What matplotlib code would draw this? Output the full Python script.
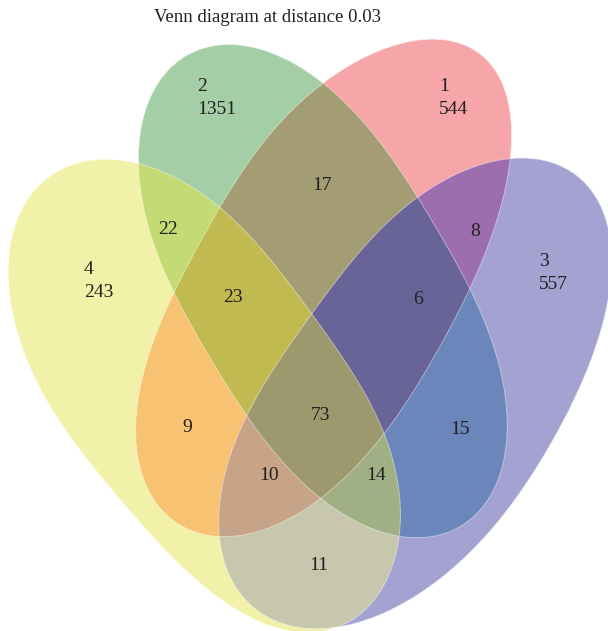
import numpy as np
import matplotlib.pyplot as plt
from matplotlib.path import Path

title = "Venn diagram at distance 0.03"

# set id -> elements found only in that set
set_ids = ["1", "2", "3", "4"]
set_only = [544, 1351, 557, 243]

# overlap regions: which sets share them, and how many
overlap_sets = ["12", "24", "124", "123", "13", "1234", "14", "23", "134", "234", "34"]
overlap_counts = [17, 22, 23, 6, 8, 73, 9, 15, 10, 14, 11]

# label positions (pixels, y down)
set_label_pos = {"1": (439, 98), "2": (197, 98), "3": (539, 273), "4": (84, 281)}
overlap_pos = {
    "12": (322, 185), "24": (168, 230), "124": (233, 298), "123": (418, 300),
    "13": (475, 231), "1234": (320, 415), "14": (187, 428), "23": (460, 429),
    "134": (269, 475), "234": (376, 475), "34": (319, 566),
}

# outline points of each egg shaped set, traced clockwise
outlines = {
    "1": [(322, 87), (353, 63), (387, 50), (420, 43), (453, 40), (480, 42), (497, 57),
          (505, 80), (507, 113), (507, 140), (505, 162), (493, 227), (472, 292),
          (420, 383), (382, 437), (352, 467), (322, 495), (272, 523), (222, 540),
          (167, 527), (143, 487), (138, 437), (143, 387), (157, 347), (172, 292),
          (193, 250), (217, 208), (243, 170), (280, 127)],
    "2": [(220, 40), (253, 47), (287, 63), (322, 87), (350, 112), (378, 140), (422, 198),
          (450, 247), (472, 292), (487, 337), (500, 387), (505, 430), (503, 470),
          (487, 507), (460, 533), (427, 542), (398, 537), (360, 520), (322, 495),
          (283, 457), (247, 418), (213, 370), (187, 320), (173, 292), (153, 223),
          (142, 165), (140, 140), (143, 113), (153, 87), (170, 63), (193, 47)],
    "3": [(422, 198), (460, 173), (500, 162), (530, 158), (560, 162), (583, 173),
          (600, 197), (609, 230), (606, 290), (597, 330), (580, 383), (560, 440),
          (520, 490), (470, 552), (417, 593), (360, 619), (310, 629), (260, 620),
          (230, 587), (222, 540), (227, 480), (247, 418), (280, 360), (312, 305),
          (367, 247)],
    "4": [(90, 157), (117, 159), (140, 165), (180, 183), (217, 208), (263, 257),
          (312, 305), (333, 340), (360, 385), (382, 437), (393, 487), (398, 537),
          (397, 560), (383, 590), (360, 619), (330, 634), (300, 634), (270, 626),
          (200, 573), (150, 532), (100, 483), (73, 447), (43, 383), (20, 337),
          (12, 290), (10, 260), (12, 233), (23, 200), (50, 170)],
}

region_colors = {
    "1": "#f6a6a8", "2": "#a5cea6", "3": "#a5a2d0", "4": "#f2f2aa",
    "12": "#a59d75", "13": "#9e6eae", "14": "#f8c273", "23": "#6b86ba",
    "24": "#c4da75", "34": "#c6c7ac", "123": "#696498", "124": "#c1ba50",
    "134": "#c7a388", "234": "#a0b084", "1234": "#9e986e",
}


def smooth_closed(points, k=4, n=720):
    # low order fourier fit of the traced outline, irons out tracing noise
    p = np.array(points, dtype=float)
    seg = np.linalg.norm(np.roll(p, -1, axis=0) - p, axis=1)
    s = np.concatenate([[0], np.cumsum(seg)[:-1]]) / seg.sum()

    def basis(u):
        cols = [np.ones_like(u)]
        for j in range(1, k + 1):
            cols += [np.cos(2 * np.pi * j * u), np.sin(2 * np.pi * j * u)]
        return np.column_stack(cols)

    coef, *_ = np.linalg.lstsq(basis(s), p, rcond=None)
    return basis(np.linspace(0, 1, n, endpoint=False)) @ coef


W, H = 608, 631
fig = plt.figure(figsize=(W / 100, H / 100), dpi=100)
ax = fig.add_axes([0, 0, 1, 1])

# colour every point by the sets it falls in
ss = 2
xs = (np.arange(W * ss) + 0.5) / ss
ys = (np.arange(H * ss) + 0.5) / ss
gx, gy = np.meshgrid(xs, ys)
pts = np.column_stack([gx.ravel(), gy.ravel()])
code = np.zeros(len(pts), dtype=int)
curves = {}
for k, sid in enumerate(set_ids):
    curves[sid] = smooth_closed(outlines[sid])
    inside = Path(curves[sid]).contains_points(pts)
    code |= inside.astype(int) << k

lut = np.ones((16, 3))
for key, col in region_colors.items():
    idx = sum(1 << set_ids.index(c) for c in key)
    lut[idx] = plt.matplotlib.colors.to_rgb(col)
img = lut[code].reshape(H * ss, W * ss, 3)
ax.imshow(img, extent=(0, W, H, 0), interpolation="antialiased")

for sid in set_ids:
    c = np.vstack([curves[sid], curves[sid][:1]])
    ax.plot(c[:, 0], c[:, 1], color="white", lw=0.6, alpha=0.5)

font = "Liberation Serif"
for sid, n in zip(set_ids, set_only):
    x, y = set_label_pos[sid]
    ax.text(x, y, f"{sid}\n{n}", ha="left", va="center", fontsize=14,
            family=font, color="#231f20", linespacing=1.45)
for key, n in zip(overlap_sets, overlap_counts):
    x, y = overlap_pos[key]
    ax.text(x, y, str(n), ha="center", va="center", fontsize=14,
            family=font, color="#231f20")

ax.text(268, 18, title, ha="center", va="center", fontsize=13.5,
        family=font, color="#231f20")

ax.set_xlim(0, W)
ax.set_ylim(H, 0)
ax.axis("off")
fig.savefig("out.png", dpi=100)
